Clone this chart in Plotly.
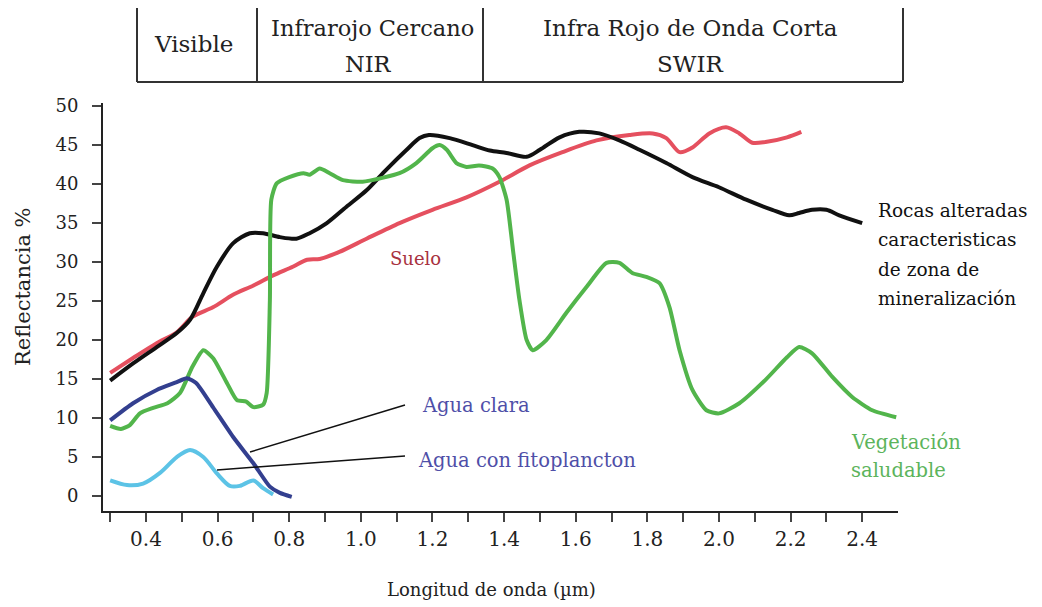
import plotly.graph_objects as go

# ---- data ----
veg_x = [0.30, 0.33, 0.355, 0.383, 0.42, 0.46, 0.495, 0.53, 0.56, 0.587, 0.626, 0.654, 0.68, 0.70, 0.727,
         0.737, 0.746, 0.75, 0.765, 0.80, 0.84, 0.857, 0.885, 0.913, 0.95, 1.005, 1.06, 1.108, 1.155, 1.20,
         1.22, 1.24, 1.267, 1.295, 1.33, 1.368, 1.387, 1.407, 1.425, 1.443, 1.463, 1.48, 1.518, 1.574,
         1.63, 1.686, 1.722, 1.758, 1.797, 1.834, 1.862, 1.89, 1.926, 1.965, 2.0, 2.057, 2.13, 2.19,
         2.224, 2.26, 2.316, 2.372, 2.428, 2.495]
veg_y = [9.0, 8.6, 9.1, 10.6, 11.3, 11.9, 13.2, 16.6, 18.7, 17.7, 14.5, 12.3, 12.1, 11.4, 11.7,
         13.2, 25.1, 38.0, 40.1, 40.9, 41.4, 41.2, 42.0, 41.4, 40.5, 40.3, 40.8, 41.4, 42.7, 44.6,
         45.0, 44.4, 42.7, 42.2, 42.4, 42.0, 40.9, 38.0, 31.5, 25.1, 20.0, 18.7, 20.0, 23.5,
         26.8, 29.9, 29.9, 28.6, 28.1, 27.3, 24.2, 18.7, 13.6, 11.0, 10.6, 11.9, 14.9, 17.8,
         19.1, 18.3, 15.3, 12.7, 11.0, 10.1]

rock_x = [0.30, 0.364, 0.43, 0.486, 0.523, 0.56, 0.598, 0.643, 0.69, 0.727, 0.774, 0.82, 0.857, 0.905,
          0.96, 1.016, 1.07, 1.128, 1.164, 1.19, 1.248, 1.312, 1.36, 1.407, 1.463, 1.5, 1.555, 1.61,
          1.666, 1.722, 1.778, 1.853, 1.926, 2.0, 2.076, 2.149, 2.196, 2.224, 2.26, 2.3, 2.336, 2.4]
rock_y = [14.8, 17.0, 19.1, 20.9, 22.6, 26.0, 29.4, 32.4, 33.7, 33.7, 33.2, 33.0, 33.7, 35.0,
          37.1, 39.2, 41.8, 44.4, 45.9, 46.3, 45.9, 45.0, 44.3, 44.0, 43.5, 44.4, 46.0, 46.7,
          46.5, 45.6, 44.4, 42.7, 40.9, 39.6, 38.0, 36.7, 36.0, 36.3, 36.7, 36.7, 36.0, 35.0]

soil_x = [0.30, 0.364, 0.43, 0.486, 0.53, 0.587, 0.643, 0.70, 0.755, 0.81, 0.85, 0.885, 0.94, 1.016,
          1.108, 1.20, 1.295, 1.387, 1.471, 1.563, 1.658, 1.75, 1.815, 1.853, 1.89, 1.926, 1.973,
          2.02, 2.057, 2.093, 2.13, 2.19, 2.23]
soil_y = [15.8, 17.7, 19.6, 21.0, 23.0, 24.2, 25.8, 27.0, 28.3, 29.4, 30.3, 30.4, 31.3, 33.0,
          35.0, 36.7, 38.3, 40.3, 42.4, 44.1, 45.6, 46.3, 46.5, 45.9, 44.1, 44.7, 46.5,
          47.3, 46.5, 45.3, 45.4, 46.0, 46.7]

clear_x = [0.30, 0.364, 0.43, 0.486, 0.514, 0.54, 0.587, 0.643, 0.70, 0.746, 0.774, 0.807]
clear_y = [9.7, 11.9, 13.6, 14.6, 15.1, 14.5, 11.4, 7.6, 4.2, 1.2, 0.4, -0.1]

phyto_x = [0.30, 0.347, 0.392, 0.44, 0.486, 0.523, 0.56, 0.598, 0.634, 0.662, 0.70, 0.727, 0.755]
phyto_y = [2.0, 1.4, 1.6, 3.0, 5.0, 5.9, 5.0, 2.9, 1.3, 1.3, 2.0, 1.0, 0.2]

x_ticks = [round(0.3 + 0.1 * i, 1) for i in range(22)]
x_labels = ["0.4", "0.6", "0.8", "1.0", "1.2", "1.4", "1.6", "1.8", "2.0", "2.2", "2.4"]
y_ticks = [0, 5, 10, 15, 20, 25, 30, 35, 40, 45, 50]

band_lines = [["Visible"], ["Infrarojo Cercano", "NIR"], ["Infra Rojo de Onda Corta", "SWIR"]]
rock_label = ["Rocas alteradas", "caracteristicas", "de zona de", "mineralización"]
veg_label = ["Vegetación", "saludable"]
x_title = "Longitud de onda (µm)"
y_title = "Reflectancia %"

# ---- figure geometry (page body has an 8px margin) ----
OFF = 8
W, H = 1042 - OFF, 607 - OFF
L, T = 103 - OFF, 103 - OFF
R = W - (898 - OFF)
B = H - (511 - OFF)
PW, PH = W - L - R, H - T - B


def px(x):  # screen x -> paper
    return (x - OFF - L) / PW


def py(y):  # screen y -> paper
    return (H - B - (y - OFF)) / PH


SERIF = "DejaVu Serif"
INK = "#222222"

fig = go.Figure()
lw = 4
fig.add_trace(go.Scatter(x=soil_x, y=soil_y, mode="lines",
                         line=dict(color="#e5505f", width=lw, shape="spline", smoothing=0.8), name="Suelo"))
fig.add_trace(go.Scatter(x=rock_x, y=rock_y, mode="lines",
                         line=dict(color="#111111", width=lw, shape="spline", smoothing=0.8), name="Rocas"))
fig.add_trace(go.Scatter(x=veg_x, y=veg_y, mode="lines",
                         line=dict(color="#52b54b", width=lw, shape="spline", smoothing=0.6), name="Vegetación"))
fig.add_trace(go.Scatter(x=clear_x, y=clear_y, mode="lines",
                         line=dict(color="#333f8f", width=lw, shape="spline", smoothing=0.6), name="Agua clara"))
fig.add_trace(go.Scatter(x=phyto_x, y=phyto_y, mode="lines",
                         line=dict(color="#5cc3e6", width=lw, shape="spline", smoothing=0.8),
                         name="Agua con fitoplancton"))

tick_text = []
for v in x_ticks:
    s = f"{v:.1f}"
    tick_text.append(s if s in x_labels else "")

fig.update_xaxes(range=[0.28, 2.5], tickvals=x_ticks, ticktext=tick_text, ticks="outside", ticklen=9,
                 tickwidth=2, tickcolor="#444", showline=True, linecolor=INK, linewidth=2,
                 showgrid=False, zeroline=False,
                 tickfont=dict(family=SERIF, size=20, color=INK))
fig.update_yaxes(range=[-1.92, 50.4], tickvals=y_ticks, ticks="outside", ticklen=9, tickwidth=2,
                 tickcolor="#444", showline=True, linecolor=INK, linewidth=2,
                 showgrid=False, zeroline=False, ticklabelstandoff=10,
                 tickfont=dict(family=SERIF, size=18, color=INK))

shapes = []
for xv in [137, 257, 483, 903]:
    shapes.append(dict(type="line", xref="paper", yref="paper", x0=px(xv), x1=px(xv), y0=py(4), y1=py(82),
                       line=dict(color="#333", width=2)))
shapes.append(dict(type="line", xref="paper", yref="paper", x0=px(137), x1=px(903), y0=py(82), y1=py(82),
                   line=dict(color="#333", width=2)))
shapes.append(dict(type="line", xref="paper", yref="paper", x0=px(250), y0=py(452), x1=px(405), y1=py(405),
                   line=dict(color="#111", width=1.5)))
shapes.append(dict(type="line", xref="paper", yref="paper", x0=px(217), y0=py(470), x1=px(405), y1=py(456),
                   line=dict(color="#111", width=1.5)))

ann = []


def text(txt, x, y, color, size, anchor="left", angle=0):
    ann.append(dict(text=txt, x=px(x), y=py(y), xref="paper", yref="paper", showarrow=False,
                    xanchor=anchor, yanchor="middle", textangle=angle,
                    font=dict(family=SERIF, size=size, color=color)))


# axis titles
text(x_title, 491, 589, INK, 18, "center")
text(y_title, 23, 287, INK, 21, "center", -90)

# table header
text(band_lines[0][0], 193, 44, INK, 23, "center")
text(band_lines[1][0], 372, 28, INK, 22.5, "center")
text(band_lines[1][1], 368, 64, INK, 22.5, "center")
text(band_lines[2][0], 690, 28, INK, 23, "center")
text(band_lines[2][1], 690, 64, INK, 23, "center")

# series labels
text("Suelo", 388, 258, "#a8323f", 18)
text("Agua clara", 420, 405, "#4f4fa8", 19.5)
text("Agua con fitoplancton", 416, 460, "#4f4fa8", 19.5)
for i, s in enumerate(rock_label):
    text(s, 876, 210 + 29.5 * i, "#111111", 18.5)
for i, s in enumerate(veg_label):
    text(s, 849, 442 + 28 * i, "#5cb45c", 19.5)

fig.update_layout(width=W, height=H, margin=dict(l=L, r=R, t=T, b=B, autoexpand=False),
                  plot_bgcolor="white", paper_bgcolor="white", showlegend=False,
                  shapes=shapes, annotations=ann)

fig.write_html("out.html")
